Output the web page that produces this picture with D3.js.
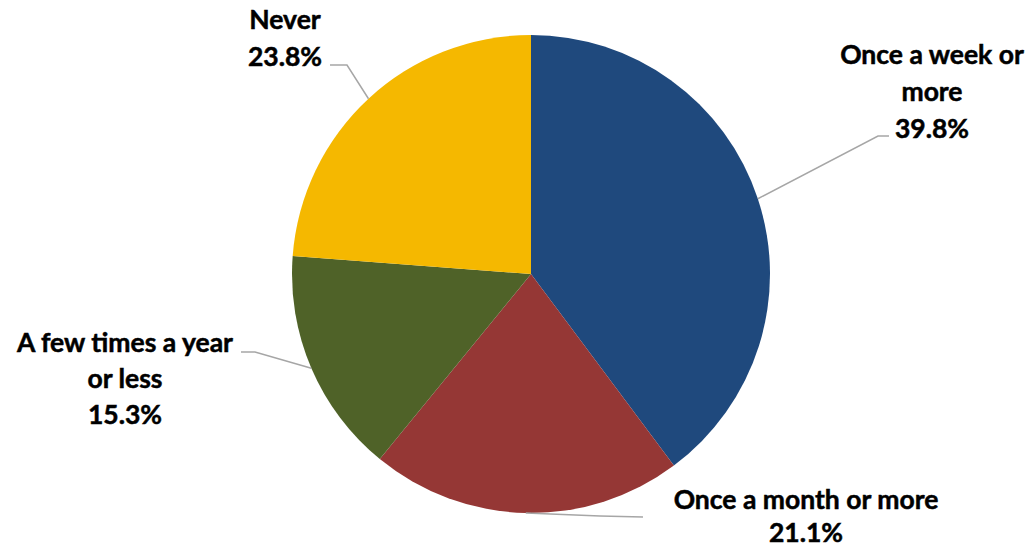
<!DOCTYPE html>
<html>
<head>
<meta charset="utf-8">
<script src="https://cdn.jsdelivr.net/npm/d3@7"></script>
<style>
  html, body { margin: 0; padding: 0; background: #ffffff; }
  svg { display: block; }
  text { font-family: Lato, "Open Sans", sans-serif; font-weight: 700; fill: #000; stroke: #000; stroke-width: 0.5px; }
</style>
</head>
<body>
<svg id="chart" width="1031" height="548"></svg>
<script>
const categories = ["Once a week or more", "Once a month or more", "A few times a year or less", "Never"];
const values = [39.8, 21.1, 15.3, 23.8];
const colors = ["#1F497D", "#953735", "#4F6228", "#F5B800"];
const labelLines = [["Once a week or", "more"], ["Once a month or more"], ["A few times a year", "or less"], ["Never"]];

// layout (positions, not data)
const W = 1031, H = 548;
const cx = 531, cy = 274, R = 239;
const labelLayout = [
  { x: 932, y: 64, lh: 37, elbow: [878, 136], end: [889, 136] },
  { x: 806, y: 509, lh: 33, elbow: [600, 516], end: [643, 517] },
  { x: 125, y: 352, lh: 36, elbow: [255, 352], end: [241, 352] },
  { x: 285, y: 29, lh: 37, elbow: [347, 65], end: [330, 65] }
];
const fontSize = 26.5;

const svg = d3.select("#chart");
const g = svg.append("g").attr("transform", `translate(${cx},${cy})`);

const data = categories.map((c, i) => ({ cat: c, value: values[i], color: colors[i], lines: labelLines[i], layout: labelLayout[i] }));

const pie = d3.pie().value(d => d.value).sort(null);
const arc = d3.arc().innerRadius(0).outerRadius(R);
const arcs = pie(data);

g.selectAll("path.slice")
  .data(arcs)
  .enter().append("path")
  .attr("class", "slice")
  .attr("d", arc)
  .attr("fill", d => d.data.color);

// leader lines
const onArc = d3.arc().innerRadius(R).outerRadius(R);
svg.selectAll("polyline.leader")
  .data(arcs)
  .enter().append("polyline")
  .attr("class", "leader")
  .attr("fill", "none")
  .attr("stroke", "#A6A6A6")
  .attr("stroke-width", 1.5)
  .attr("points", d => {
    const c = onArc.centroid(d);
    const p0 = [cx + c[0], cy + c[1]];
    return [p0, d.data.layout.elbow, d.data.layout.end].map(p => p.join(",")).join(" ");
  });

// labels
const labels = svg.selectAll("text.label")
  .data(arcs)
  .enter().append("text")
  .attr("class", "label")
  .attr("text-anchor", "middle")
  .attr("font-size", fontSize);

labels.each(function(d) {
  const t = d3.select(this);
  const lines = d.data.lines.concat([d3.format(".1f")(d.data.value) + "%"]);
  lines.forEach((ln, i) => {
    t.append("tspan")
      .attr("x", d.data.layout.x)
      .attr("y", d.data.layout.y + i * d.data.layout.lh)
      .text(ln);
  });
});
</script>
</body>
</html>
